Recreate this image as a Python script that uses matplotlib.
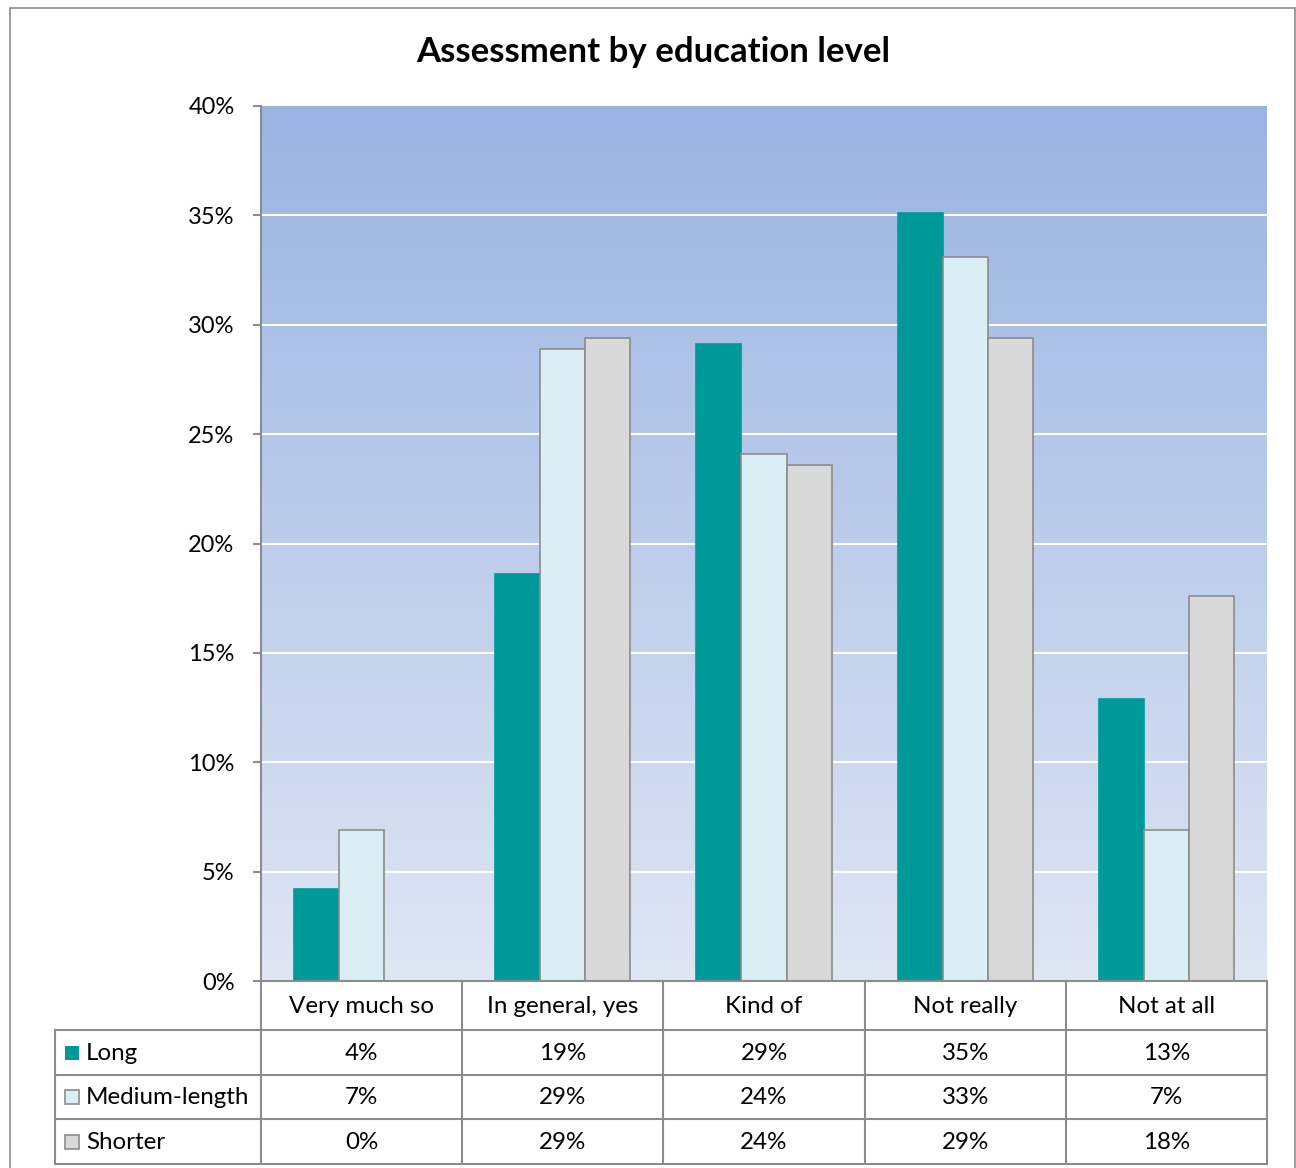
import numpy as np
import matplotlib
matplotlib.use("Agg")
import matplotlib.pyplot as plt
from matplotlib.colors import LinearSegmentedColormap
from matplotlib.patches import Rectangle
from matplotlib.lines import Line2D

plt.rcParams['font.family'] = ['Lato', 'DejaVu Sans']

# ---- data ----
categories = ["Very much so", "In general, yes", "Kind of", "Not really", "Not at all"]
series_names = ["Long", "Medium-length", "Shorter"]
long_vals = [4.2, 18.6, 29.1, 35.1, 12.9]
medium_vals = [6.9, 28.9, 24.1, 33.1, 6.9]
shorter_vals = [0.0, 29.4, 23.6, 29.4, 17.6]
yticks = [0, 5, 10, 15, 20, 25, 30, 35, 40]
title = "Assessment by education level"

colors = ["#009999", "#DAEEF3", "#D9D9D9"]
edges = ["#009999", "#8C8C8C", "#8C8C8C"]
series = [long_vals, medium_vals, shorter_vals]

W, H = 1296, 1168
fig = plt.figure(figsize=(W / 100, H / 100), dpi=100)

# outer frame
frame = Rectangle((10 / W, -0.01), (1295 - 10) / W, 1 - 8 / H + 0.01,
                  transform=fig.transFigure, fill=False, edgecolor="#8C8C8C", lw=1.2)
fig.patches.append(frame)

left, right, top, bottom = 261, 1267, 106, 981
ax = fig.add_axes([left / W, 1 - bottom / H, (right - left) / W, (bottom - top) / H])

# gradient background
cmap = LinearSegmentedColormap.from_list("bg", ["#DFE6F4", "#9AB4E2"])
grad = np.linspace(0, 1, 256).reshape(-1, 1)
ax.imshow(grad, extent=[-0.5, 4.5, 0, 40], origin="lower", aspect="auto", cmap=cmap, zorder=0)

for y in yticks[1:-1]:
    ax.axhline(y, color="white", lw=1.5, zorder=1)

x = np.arange(len(categories))
w = 0.224
for i, (vals, c, e) in enumerate(zip(series, colors, edges)):
    ax.bar(x + (i - 1) * w, vals, width=w, color=c, edgecolor=e, linewidth=1.2, zorder=2)

ax.set_xlim(-0.5, 4.5)
ax.set_ylim(0, 40)
ax.set_yticks(yticks)
ax.set_yticklabels([f"{t}%" for t in yticks], fontsize=17)
ax.set_xticks([])
for s in ["top", "right", "bottom"]:
    ax.spines[s].set_visible(False)
ax.spines["left"].set_color("#8C8C8C")
ax.spines["left"].set_linewidth(1.5)
ax.tick_params(axis="y", length=6, color="#8C8C8C", width=1.5, pad=13)

fig.text(653 / W, 1 - 52 / H, title, ha="center", va="center", fontsize=25, fontweight="bold")

# ---- data table ----
tab = fig.add_axes([0, 0, 1, 1], facecolor="none")
tab.set_xlim(0, W)
tab.set_ylim(H, 0)
tab.axis("off")
lc = "#8C8C8C"
lw = 1.5
col_w = (right - left) / len(categories)
col_edges = [left + i * col_w for i in range(len(categories) + 1)]
row_edges = [981, 1030, 1075, 1119, 1164]
label_left = 55

# horizontal lines
tab.add_line(Line2D([left, right], [row_edges[0]] * 2, color=lc, lw=lw))
for ry in row_edges[1:]:
    tab.add_line(Line2D([label_left, right], [ry] * 2, color=lc, lw=lw))
# vertical lines
for cx in col_edges:
    tab.add_line(Line2D([cx, cx], [row_edges[0], row_edges[-1]], color=lc, lw=lw))
tab.add_line(Line2D([label_left, label_left], [row_edges[1], row_edges[-1]], color=lc, lw=lw))

fs = 17.4
for j, cat in enumerate(categories):
    cx = (col_edges[j] + col_edges[j + 1]) / 2
    tab.text(cx, (row_edges[0] + row_edges[1]) / 2 + 1, cat, ha="center", va="center", fontsize=fs)
for i, (name, vals) in enumerate(zip(series_names, series)):
    cy = (row_edges[i + 1] + row_edges[i + 2]) / 2 + 1
    tab.add_patch(Rectangle((65, cy - 8), 14, 14, facecolor=colors[i],
                            edgecolor=("none" if i == 0 else lc), lw=1.2))
    tab.text(86, cy, name, ha="left", va="center", fontsize=fs)
    for j, v in enumerate(vals):
        cx = (col_edges[j] + col_edges[j + 1]) / 2
        tab.text(cx, cy, f"{round(v):d}%", ha="center", va="center", fontsize=fs)

fig.savefig("out.png", dpi=100)
